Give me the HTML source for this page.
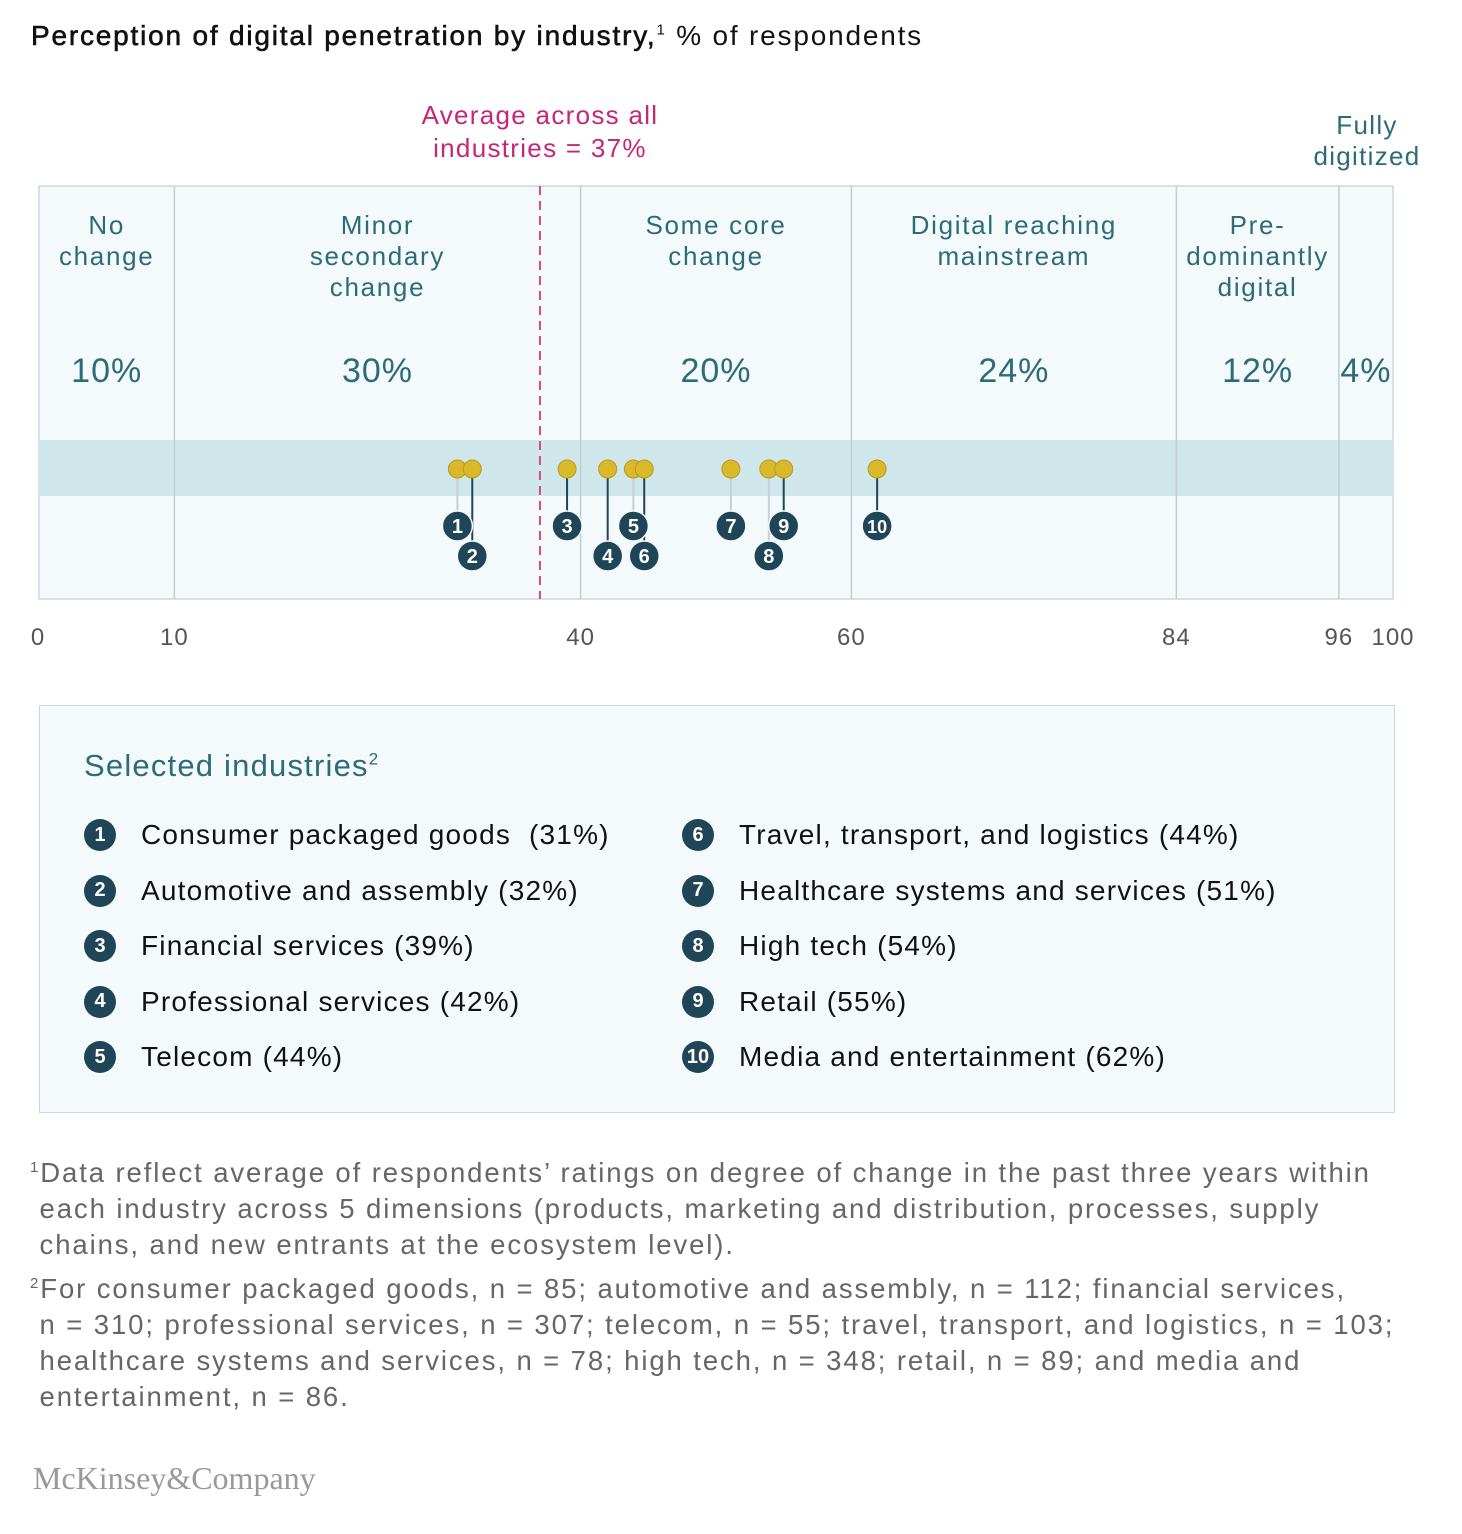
<!DOCTYPE html>
<html><head><meta charset="utf-8"><style>
body{margin:0;background:#fff;width:1462px;height:1534px;position:relative;font-family:"Liberation Sans",sans-serif;overflow:hidden}
.abs{position:absolute}
.leg{position:absolute;font-size:28px;color:#111;display:flex;align-items:center;letter-spacing:1.2px}
.bd{width:32px;height:32px;border-radius:50%;background:#1f4556;color:#fff;font-size:20px;font-weight:bold;display:flex;align-items:center;justify-content:center;margin-right:25px;letter-spacing:0}
.fn{position:absolute;left:30px;font-size:27.5px;color:#666;line-height:36px;letter-spacing:1.9px;white-space:nowrap}
</style></head><body>
<div class="abs" style="left:31px;top:20px;font-size:28px;color:#111;letter-spacing:1.8px;white-space:nowrap"><b style="font-weight:normal;-webkit-text-stroke:0.6px #111">Perception of digital penetration by industry,</b><sup style="font-size:15px">1</sup> % of respondents</div>
<svg class="abs" style="left:0;top:0" width="1462" height="680">
<g id="g"></g></svg>
<div class="abs" style="left:39px;top:705px;width:1354px;height:406px;background:#f4fafb;border:1.5px solid #c9d8de"></div>
<div class="abs" style="left:84px;top:748px;font-size:31px;color:#2c6b7a;letter-spacing:1.2px">Selected industries<sup style="font-size:17px">2</sup></div>
<div id="legend"></div>
<div class="fn" style="top:1150px"><sup style="font-size:15px">1</sup>Data reflect average of respondents’ ratings on degree of change in the past three years within<br>&nbsp;each industry across 5 dimensions (products, marketing and distribution, processes, supply<br>&nbsp;chains, and new entrants at the ecosystem level).</div>
<div class="fn" style="top:1266px"><sup style="font-size:15px">2</sup>For consumer packaged goods, n = 85; automotive and assembly, n = 112; financial services,<br>&nbsp;n = 310; professional services, n = 307; telecom, n = 55; travel, transport, and logistics, n = 103;<br>&nbsp;healthcare systems and services, n = 78; high tech, n = 348; retail, n = 89; and media and<br>&nbsp;entertainment, n = 86.</div>
<div class="abs" style="left:33px;top:1460px;font-family:'Liberation Serif',serif;font-size:32px;color:#999">McKinsey&amp;Company</div>
<script>
const bounds=[0,10,40,60,84,96,100];
const stageNames=[["No","change"],["Minor","secondary","change"],["Some core","change"],["Digital reaching","mainstream"],["Pre-","dominantly","digital"],[]];
const stageShares=["10%","30%","20%","24%","12%","4%"];
const industries=["Consumer packaged goods","Automotive and assembly","Financial services","Professional services","Telecom","Travel, transport, and logistics","Healthcare systems and services","High tech","Retail","Media and entertainment"];
const values=[31,32,39,42,44,44,51,54,55,62];
const positions=[30.9,32,39,42,43.9,44.7,51.1,53.9,55,61.9];
const badgeRow=[0,1,0,1,0,1,0,1,0,0];
const stemDark=[0,1,1,1,0,1,0,0,1,1];
const average=37;
const X=v=>39+v*13.54;
const NS="http://www.w3.org/2000/svg";
const g=document.getElementById('g');
function s(tag,a,name){const e=document.createElementNS(NS,tag);for(const k in a)e.setAttribute(k,a[k]);


g.appendChild(e);return e;}
s('rect',{x:X(0),y:186,width:X(100)-X(0),height:413,fill:'#f4fafb',stroke:'#c9d8de','stroke-width':1.5},'plot-area');
s('rect',{x:X(0),y:440,width:X(100)-X(0),height:56,fill:'#cfe6ea'},'band');
bounds.slice(1,-1).forEach(b=>s('line',{x1:X(b),x2:X(b),y1:186,y2:599,stroke:'#c0cdd3','stroke-width':1.5},'stage-divider'));
bounds.forEach(b=>{const t=s('text',{x:X(b)+(b==0?-1:0),y:645,'text-anchor':'middle','font-size':24,fill:'#555','font-family':'Liberation Sans','letter-spacing':1},'x-tick-label');t.textContent=b;});
s('line',{x1:X(average),x2:X(average),y1:186,y2:599,stroke:'#d24d8a','stroke-width':2,'stroke-dasharray':'9,6'},'average-line');
[["Average across all",124],["industries = 37%",157]].forEach(([t,y])=>{const e=s('text',{x:X(average),y:y,'text-anchor':'middle','font-size':26,fill:'#c5267a','font-family':'Liberation Sans','letter-spacing':1.3},'average-label');e.textContent=t;});
[["Fully",134],["digitized",165]].forEach(([t,y])=>{const e=s('text',{x:1367,y:y,'text-anchor':'middle','font-size':26,fill:'#2c6b7a','font-family':'Liberation Sans','letter-spacing':1.3},'fully-digitized-label');e.textContent=t;});
for(let i=0;i<6;i++){const cx=(X(bounds[i])+X(bounds[i+1]))/2;
stageNames[i].forEach((t,j)=>{const e=s('text',{x:cx,y:234+j*31,'text-anchor':'middle','font-size':26,fill:'#2c6b7a','font-family':'Liberation Sans','letter-spacing':1.7},'stage-name');e.textContent=t;});
const p=s('text',{x:cx,y:382,'text-anchor':'middle','font-size':34,fill:'#2c6b7a','font-family':'Liberation Sans','letter-spacing':1},'stage-share');p.textContent=stageShares[i];}
positions.forEach((v,i)=>{const by=badgeRow[i]?556:526;
s('line',{x1:X(v),x2:X(v),y1:469,y2:by,stroke:stemDark[i]?'#1f4556':'#c6cfd3','stroke-width':2},'stem');});
positions.forEach((v,i)=>s('circle',{cx:X(v),cy:469,r:9,fill:'#d9b82a',stroke:'#b89a20','stroke-width':1},'dot-'+(i+1)));
positions.forEach((v,i)=>{const by=badgeRow[i]?556:526;
s('circle',{cx:X(v),cy:by,r:15,fill:'#1f4556',stroke:'#f4fafb','stroke-width':1.5},'badge-'+(i+1));
const t=s('text',{x:X(v),y:by+7,'text-anchor':'middle','font-size':i==9?18:20,'font-weight':'bold',fill:'#fff','font-family':'Liberation Sans'},'badge-number');t.textContent=i+1;});
const L=document.getElementById('legend');
industries.forEach((n,i)=>{const d=document.createElement('div');d.className='leg';


d.style.left=(i<5?84:682)+'px';d.style.top=(819+(i%5)*55.5)+'px';
d.innerHTML='<span class="bd">'+(i+1)+'</span>'+n+(i==0?'&nbsp;':'')+' ('+values[i]+'%)';L.appendChild(d);});
</script>
</body></html>
